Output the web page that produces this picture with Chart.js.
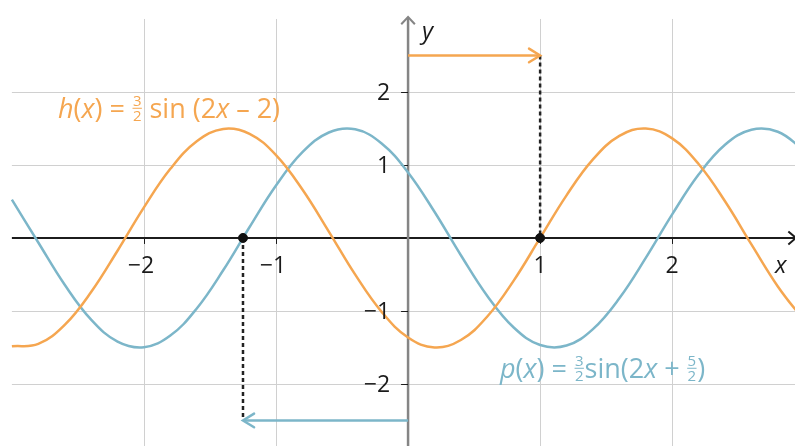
<!DOCTYPE html>
<html>
<head>
<meta charset="utf-8">
<script src="https://cdn.jsdelivr.net/npm/chart.js@4.4.1/dist/chart.umd.min.js"></script>
<style>
  html, body { margin: 0; padding: 0; background: #fff; }
  #wrap { width: 795px; height: 446px; }
</style>
</head>
<body>
<div id="wrap"><canvas id="chart" width="795" height="446"></canvas></div>
<script>
// sample points of h(x) = 3/2 sin(2x - 2) and p(x) = 3/2 sin(2x + 5/2)
var xs = [-3.0, -2.8, -2.6, -2.4, -2.2, -2.0, -1.8, -1.6, -1.4, -1.2, -1.0, -0.8, -0.6, -0.4, -0.2,
          0, 0.2, 0.4, 0.6, 0.8, 1.0, 1.2, 1.4, 1.6, 1.8, 2.0, 2.2, 2.4, 2.6, 2.8, 3.0];
var hValues = [-1.484, -1.452, -1.191, -0.741, -0.175, 0.419, 0.947, 1.325, 1.494, 1.427, 1.135, 0.664, 0.088, -0.503, -1.013,
               -1.364, -1.499, -1.398, -1.076, -0.584, 0, 0.584, 1.076, 1.398, 1.499, 1.364, 1.013, 0.503, -0.088, -0.664, -1.135];
var pValues = [0.526, -0.062, -0.641, -1.119, -1.419, -1.496, -1.337, -0.966, -0.443, 0.150, 0.719, 1.175, 1.445, 1.488, 1.295,
               0.898, 0.359, -0.237, -0.795, -1.227, -1.466, -1.474, -1.248, -0.826, -0.273, 0.323, 0.868, 1.276, 1.482, 1.455, 1.198];

var xTicks = [-2, -1, 1, 2];
var xTickLabels = ['−2', '−1', '1', '2'];
var yTicks = [-2, -1, 1, 2];
var yTickLabels = ['−2', '−1', '1', '2'];

// zero of each curve and the height of its shift arrow
var hZero = 1;
var pZero = -1.25;
var hArrowY = 2.5;
var pArrowY = -2.5;

var ORANGE = '#f5a650';
var BLUE = '#7cb6c9';
var GRID = '#d0d0d0';
var FONT = '"Open Sans", "Noto Sans", sans-serif';

function pairs(xArr, yArr) {
    return xArr.map(function (x, i) { return { x: x, y: yArr[i] }; });
}

function chevron(ctx, x, y, dx, dy, len, spread) {
    // open arrow head with its tip at (x, y), pointing along (dx, dy)
    var a = Math.atan2(dy, dx);
    ctx.beginPath();
    ctx.moveTo(x - len * Math.cos(a - spread), y - len * Math.sin(a - spread));
    ctx.lineTo(x, y);
    ctx.lineTo(x - len * Math.cos(a + spread), y - len * Math.sin(a + spread));
    ctx.stroke();
}

function drawFormula(ctx, runs, x, y, color, size) {
    ctx.fillStyle = color;
    ctx.strokeStyle = color;
    ctx.textAlign = 'left';
    ctx.textBaseline = 'alphabetic';
    runs.forEach(function (r) {
        if (r.frac) {
            var fs = Math.round(size * 0.56);
            ctx.font = fs + 'px ' + FONT;
            var w = Math.max(ctx.measureText(r.frac[0]).width, ctx.measureText(r.frac[1]).width);
            ctx.fillText(r.frac[0], x + 1, y - size * 0.44);
            ctx.fillText(r.frac[1], x + 1, y + size * 0.12);
            ctx.lineWidth = 1;
            ctx.beginPath();
            ctx.moveTo(x + 1, y - size * 0.36);
            ctx.lineTo(x + 1 + w, y - size * 0.36);
            ctx.stroke();
            x += w + 2;
        } else {
            ctx.font = (r.it ? 'italic ' : '') + size + 'px ' + FONT;
            ctx.fillText(r.t, x, y);
            x += ctx.measureText(r.t).width;
        }
    });
}

var axesPlugin = {
    id: 'axes',
    beforeDatasetsDraw: function (chart) {
        var ctx = chart.ctx, sx = chart.scales.x, sy = chart.scales.y;
        var x0 = sx.getPixelForValue(0), y0 = sy.getPixelForValue(0);
        var left = sx.getPixelForValue(-3), top = sy.getPixelForValue(3);
        var right = chart.width, bottom = chart.height;

        ctx.save();
        ctx.strokeStyle = GRID;
        ctx.lineWidth = 1;
        xTicks.forEach(function (v) {
            var px = Math.round(sx.getPixelForValue(v)) + 0.5;
            ctx.beginPath(); ctx.moveTo(px, top); ctx.lineTo(px, bottom); ctx.stroke();
        });
        yTicks.forEach(function (v) {
            var py = Math.round(sy.getPixelForValue(v)) + 0.5;
            ctx.beginPath(); ctx.moveTo(left, py); ctx.lineTo(right, py); ctx.stroke();
        });

        // x axis
        ctx.strokeStyle = '#1c1c1c';
        ctx.lineWidth = 2;
        ctx.beginPath(); ctx.moveTo(left, y0); ctx.lineTo(right, y0); ctx.stroke();
        chevron(ctx, right + 1, y0, 1, 0, 10, 0.7);
        ctx.lineWidth = 1;
        xTicks.forEach(function (v) {
            var px = Math.round(sx.getPixelForValue(v)) + 0.5;
            ctx.beginPath(); ctx.moveTo(px, y0); ctx.lineTo(px, y0 + 6); ctx.stroke();
        });

        // y axis
        ctx.strokeStyle = '#858585';
        ctx.lineWidth = 2.5;
        ctx.beginPath(); ctx.moveTo(x0, bottom); ctx.lineTo(x0, top - 1); ctx.stroke();
        ctx.lineWidth = 2;
        chevron(ctx, x0, top - 2, 0, -1, 10, 0.75);
        ctx.strokeStyle = '#1c1c1c';
        ctx.lineWidth = 1;
        yTicks.forEach(function (v) {
            var py = Math.round(sy.getPixelForValue(v)) + 0.5;
            ctx.beginPath(); ctx.moveTo(x0 - 7, py); ctx.lineTo(x0, py); ctx.stroke();
        });
        ctx.restore();
    },
    afterDatasetsDraw: function (chart) {
        var ctx = chart.ctx, sx = chart.scales.x, sy = chart.scales.y;
        var x0 = sx.getPixelForValue(0), y0 = sy.getPixelForValue(0);

        ctx.save();
        // shift arrow heads
        ctx.lineWidth = 2.5;
        ctx.lineCap = 'round';
        ctx.strokeStyle = ORANGE;
        chevron(ctx, sx.getPixelForValue(hZero), sy.getPixelForValue(hArrowY), 1, 0, 13, 0.55);
        ctx.strokeStyle = BLUE;
        chevron(ctx, sx.getPixelForValue(pZero), sy.getPixelForValue(pArrowY), -1, 0, 13, 0.55);

        // tick labels
        ctx.fillStyle = '#1a1a1a';
        ctx.font = '23px ' + FONT;
        ctx.textBaseline = 'alphabetic';
        ctx.textAlign = 'center';
        xTicks.forEach(function (v, i) {
            ctx.fillText(xTickLabels[i], sx.getPixelForValue(v) - (v < 0 ? 3 : 0), y0 + 35);
        });
        ctx.textAlign = 'right';
        yTicks.forEach(function (v, i) {
            ctx.fillText(yTickLabels[i], x0 - 18, sy.getPixelForValue(v) + 8);
        });
        ctx.font = 'italic 24px ' + FONT;
        ctx.textAlign = 'left';
        ctx.fillText('x', 775, y0 + 35);
        ctx.fillText('y', x0 + 14, 39);

        // function labels
        drawFormula(ctx, [
            { t: 'h', it: true }, { t: '(' }, { t: 'x', it: true }, { t: ') = ' },
            { frac: ['3', '2'] }, { t: ' sin (2' }, { t: 'x', it: true }, { t: ' – 2)' }
        ], 58, 118, ORANGE, 27);
        drawFormula(ctx, [
            { t: 'p', it: true }, { t: '(' }, { t: 'x', it: true }, { t: ') = ' },
            { frac: ['3', '2'] }, { t: 'sin(2' }, { t: 'x', it: true }, { t: ' + ' },
            { frac: ['5', '2'] }, { t: ')' }
        ], 500, 378, BLUE, 27);
        ctx.restore();
    }
};

new Chart(document.getElementById('chart'), {
    type: 'line',
    data: {
        datasets: [
            {
                type: 'scatter',
                data: [{ x: hZero, y: 0 }, { x: pZero, y: 0 }],
                backgroundColor: '#111',
                borderColor: '#111',
                pointRadius: 4.5,
                order: 0
            },
            {
                data: [{ x: hZero, y: hArrowY }, { x: hZero, y: 0 }],
                borderColor: '#222',
                borderWidth: 2.5,
                borderDash: [4, 3],
                pointRadius: 0,
                order: 1
            },
            {
                data: [{ x: pZero, y: 0 }, { x: pZero, y: pArrowY }],
                borderColor: '#222',
                borderWidth: 2.5,
                borderDash: [4, 3],
                pointRadius: 0,
                order: 1
            },
            {
                data: [{ x: 0, y: hArrowY }, { x: hZero, y: hArrowY }],
                borderColor: ORANGE,
                borderWidth: 2.5,
                pointRadius: 0,
                order: 2
            },
            {
                data: [{ x: 0, y: pArrowY }, { x: pZero, y: pArrowY }],
                borderColor: BLUE,
                borderWidth: 2.5,
                pointRadius: 0,
                order: 2
            },
            {
                label: 'h',
                data: pairs(xs, hValues),
                borderColor: ORANGE,
                borderWidth: 2.5,
                pointRadius: 0,
                tension: 0.4,
                order: 3
            },
            {
                label: 'p',
                data: pairs(xs, pValues),
                borderColor: BLUE,
                borderWidth: 2.5,
                pointRadius: 0,
                tension: 0.4,
                order: 3
            }
        ]
    },
    options: {
        responsive: false,
        animation: false,
        layout: { padding: 0, autoPadding: false },
        plugins: { legend: { display: false }, tooltip: { enabled: false } },
        scales: {
            x: { type: 'linear', min: -3.09, max: 2.93, display: false },
            y: { type: 'linear', min: -2.85, max: 3.26, display: false }
        }
    },
    plugins: [axesPlugin]
});
</script>
</body>
</html>
